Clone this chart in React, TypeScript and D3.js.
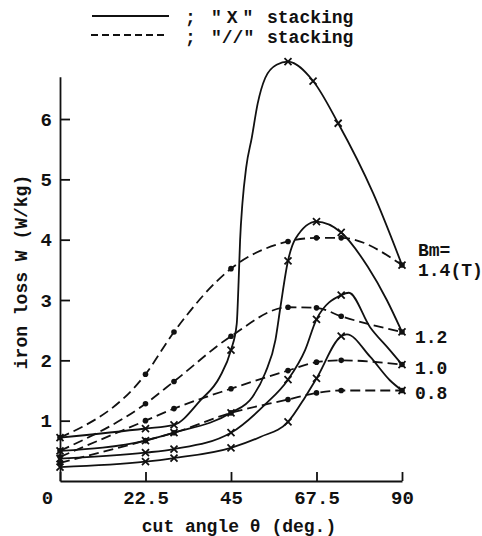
import React, { useEffect, useRef } from 'react';
import * as d3 from 'd3';

type Pt = [number, number];

// cut angle (deg) / iron loss (W/kg)
const xTicks = [0, 22.5, 45, 67.5, 90];
const yTicks = [1, 2, 3, 4, 5, 6];

// "X" stacking (solid lines), points with x markers
const xStack08: Pt[] = [[0, 0.23], [22.5, 0.32], [30, 0.38], [45, 0.55], [60, 0.98], [67.5, 1.7], [74, 2.4], [90, 1.5]];
const xStack10: Pt[] = [[0, 0.37], [22.5, 0.47], [30, 0.53], [45, 0.8], [60, 1.68], [67.5, 2.68], [74, 3.08], [90, 1.93]];
const xStack12: Pt[] = [[0, 0.5], [22.5, 0.67], [30, 0.8], [45, 1.13], [60, 3.65], [67.5, 4.3], [74, 4.12], [90, 2.47]];
const xStack14: Pt[] = [[0, 0.72], [22.5, 0.87], [30, 0.93], [45, 2.17], [60, 6.95], [66.6, 6.63], [73.2, 5.93], [90, 3.58]];

// extra points (no marker)
const xStack08Trace: Pt[] = [[52.7, 0.73], [64.5, 1.39], [75.5, 2.43], [81.6, 2.06], [86.8, 1.67]];
const xStack10Trace: Pt[] = [[54, 1.27], [64.5, 2.17], [76, 3.12], [81.6, 2.55], [86.8, 2.17]];
const xStack12Trace: Pt[] = [[50.6, 1.39], [54, 1.79], [56.7, 2.34], [58, 2.88], [62, 4.02], [81, 3.55], [86, 3.0]];
const xStack14Trace: Pt[] = [[37, 1.34], [42, 1.72], [46.5, 2.6], [47, 3.3], [47.4, 4.0], [48, 4.6], [49, 5.2], [50.5, 5.7], [52, 6.25], [54, 6.68], [57, 6.9], [82.4, 4.77]];

// "//" stacking (dashed lines), points with dot markers
const slashStack08: Pt[] = [[0, 0.3], [22.5, 0.67], [30, 0.8], [45, 1.13], [60, 1.35], [67.5, 1.46], [74, 1.5], [90, 1.5]];
const slashStack10: Pt[] = [[0, 0.4], [22.5, 1.0], [30, 1.2], [45, 1.53], [60, 1.83], [67.5, 1.97], [74, 2.0], [90, 1.93]];
const slashStack12: Pt[] = [[0, 0.5], [22.5, 1.28], [30, 1.65], [45, 2.4], [60, 2.88], [67.5, 2.87], [74, 2.73], [90, 2.47]];
const slashStack14: Pt[] = [[0, 0.72], [22.5, 1.77], [30, 2.47], [45, 3.52], [60, 3.97], [67.5, 4.03], [74, 4.03], [90, 3.58]];

const bmLabels = ['1.4(T)', '1.2', '1.0', '0.8'];

const FONT = '"Liberation Mono", "Courier New", monospace';
const INK = '#111';

function App() {
    const svgRef = useRef<SVGSVGElement>(null);
    const width = 482, height = 536;

    useEffect(() => {
        const root = d3.select(svgRef.current);
        root.selectAll('*').remove();

        const x = d3.scaleLinear().domain([0, 90]).range([60, 402]);
        const y = d3.scaleLinear().domain([0, 6.7]).range([481, 481 - 6.7 * 60.33]);

        const line = d3.line<Pt>()
            .x(d => x(d[0]))
            .y(d => y(d[1]))
            .curve(d3.curveMonotoneX);

        // axes
        const gx = root.append('g')
            .attr('transform', `translate(0, ${y(0)})`)
            .call(d3.axisBottom(x).tickValues(xTicks).tickFormat(d => String(d))
                .tickSizeInner(-9).tickSizeOuter(0).tickPadding(9.5));
        const gy = root.append('g')
            .attr('transform', `translate(${x(0)}, 0)`)
            .call(d3.axisLeft(y).tickValues(yTicks).tickFormat(d => String(d))
                .tickSizeInner(-10).tickSizeOuter(0).tickPadding(8));

        [gx, gy].forEach(g => {
            g.attr('font-family', FONT).attr('font-size', 19).attr('font-weight', 'bold');
            g.selectAll('path, line').attr('stroke', INK).attr('stroke-width', 1.8);
            g.selectAll('text').attr('fill', INK);
        });
        gx.selectAll('text').filter(d => d === 0).attr('dx', -13);

        const series = [
            { marks: xStack08, trace: xStack08Trace, dashed: false },
            { marks: xStack10, trace: xStack10Trace, dashed: false },
            { marks: xStack12, trace: xStack12Trace, dashed: false },
            { marks: xStack14, trace: xStack14Trace, dashed: false },
            { marks: slashStack08, trace: [], dashed: true },
            { marks: slashStack10, trace: [], dashed: true },
            { marks: slashStack12, trace: [], dashed: true },
            { marks: slashStack14, trace: [], dashed: true },
        ];

        const plot = root.append('g');
        series.forEach(s => {
            const pts = [...s.marks, ...s.trace].sort((a, b) => a[0] - b[0]);
            plot.append('path')
                .attr('d', line(pts))
                .attr('fill', 'none')
                .attr('stroke', INK)
                .attr('stroke-width', 1.8)
                .attr('stroke-dasharray', s.dashed ? '10,5' : null);

            if (s.dashed) {
                plot.selectAll(null)
                    .data(s.marks)
                    .enter()
                    .append('circle')
                    .attr('cx', d => x(d[0]))
                    .attr('cy', d => y(d[1]))
                    .attr('r', 2.8)
                    .attr('fill', INK);
            } else {
                plot.selectAll(null)
                    .data(s.marks)
                    .enter()
                    .append('path')
                    .attr('transform', d => `translate(${x(d[0])}, ${y(d[1])})`)
                    .attr('d', 'M-3.5,-3.5L3.5,3.5M-3.5,3.5L3.5,-3.5')
                    .attr('stroke', INK)
                    .attr('stroke-width', 1.8);
            }
        });

        // Bm labels at the right ends
        const txt = (sel: any) => sel
            .attr('font-family', FONT)
            .attr('font-size', 18)
            .attr('font-weight', 'bold')
            .attr('fill', INK)
            .style('white-space', 'pre');

        txt(root.append('text').attr('x', 418).attr('y', 256).text('Bm='));
        const ends = [xStack14, xStack12, xStack10, xStack08].map(s => s[s.length - 1][1]);
        const labelDy = [11, 11, 9, 8];
        bmLabels.forEach((lab, i) => {
            txt(root.append('text')
                .attr('x', i === 0 ? 418 : 415)
                .attr('y', y(ends[i]) + labelDy[i])
                .text(lab));
        });

        // axis titles
        txt(root.append('text')
            .attr('x', 239)
            .attr('y', 532)
            .attr('text-anchor', 'middle')
            .attr('font-size', 19)
            .text('cut angle θ (deg.)'));
        txt(root.append('text')
            .attr('transform', 'translate(27, 272) rotate(-90)')
            .attr('text-anchor', 'middle')
            .attr('font-size', 19)
            .text('iron loss W (W/kg)'));

        // legend
        const leg = root.append('g');
        leg.append('line').attr('x1', 92).attr('x2', 169).attr('y1', 16).attr('y2', 16)
            .attr('stroke', INK).attr('stroke-width', 1.8);
        leg.append('line').attr('x1', 91).attr('x2', 168).attr('y1', 35).attr('y2', 35)
            .attr('stroke', INK).attr('stroke-width', 1.8).attr('stroke-dasharray', '7,4');
        const rows = [['"X"', 23, 5], ['"//"', 43, 0]] as const;
        rows.forEach(([tag, by, ls]) => {
            txt(leg.append('text').attr('x', 185).attr('y', by).attr('font-size', 19).text(';'));
            txt(leg.append('text').attr('x', 211).attr('y', by).attr('font-size', 19)
                .attr('letter-spacing', ls).text(tag));
            txt(leg.append('text').attr('x', 267).attr('y', by).attr('font-size', 19).text('stacking'));
        });
    }, []);

    return (
        <svg ref={svgRef} width={width} height={height}
            style={{ position: 'absolute', left: 0, top: 0, background: '#fff' }} />
    );
}

export default App;
